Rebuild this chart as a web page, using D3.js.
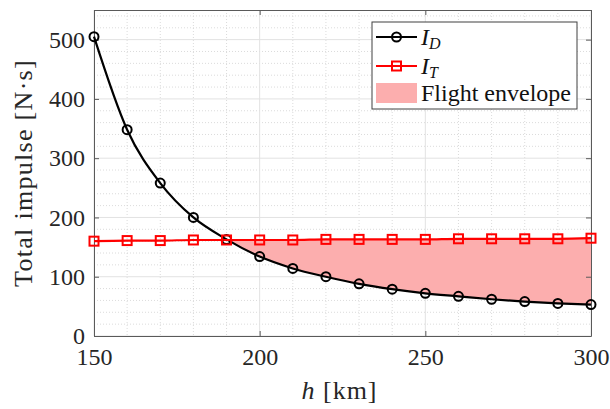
<!DOCTYPE html>
<html>
<head>
<meta charset="utf-8">
<script src="https://cdn.jsdelivr.net/npm/d3@7"></script>
<style>
  body { margin: 0; background: #fff; }
</style>
</head>
<body>
<div id="chart"></div>
<script>
// Altitude samples [km]
const altitudes = [150, 160, 170, 180, 190, 200, 210, 220, 230, 240, 250, 260, 270, 280, 290, 300];
// Drag impulse I_D [N·s]
const dragImpulse = [505, 348, 258, 200, 163, 134, 114, 100, 88, 79, 72, 67, 62, 58, 55, 53];
// Thruster impulse I_T [N·s]
const thrustImpulse = [160, 161, 161, 162, 162, 162, 162, 163, 163, 163, 163, 164, 164, 164, 164, 165];
const xTicks = [150, 200, 250, 300];
const yTicks = [0, 100, 200, 300, 400, 500];
const legendLabels = ['I_D', 'I_T', 'Flight envelope'];

const FONT = '"Liberation Serif", "Times New Roman", "DejaVu Serif", serif';
const width = 610;
const height = 409;
const margin = { top: 10, right: 19, bottom: 73, left: 94 };
const w = width - margin.left - margin.right;
const h = height - margin.top - margin.bottom;

const svg = d3.select('#chart').append('svg')
  .attr('width', width)
  .attr('height', height);

const g = svg.append('g')
  .attr('transform', `translate(${margin.left},${margin.top})`);

const x = d3.scaleLinear().domain([150, 300]).range([0, w]);
const y = d3.scaleLinear().domain([0, 550]).range([h, 0]);

// Minor grid (dotted)
g.append('g').selectAll('line')
  .data(d3.range(150, 301, 10).filter(v => v % 50 !== 0))
  .join('line')
  .attr('x1', d => x(d)).attr('x2', d => x(d))
  .attr('y1', 0).attr('y2', h)
  .attr('stroke', '#d2d2d2').attr('stroke-width', 0.8)
  .attr('stroke-dasharray', '1,2');

g.append('g').selectAll('line')
  .data(d3.range(0, 551, 20).filter(v => v % 100 !== 0))
  .join('line')
  .attr('x1', 0).attr('x2', w)
  .attr('y1', d => y(d)).attr('y2', d => y(d))
  .attr('stroke', '#d2d2d2').attr('stroke-width', 0.8)
  .attr('stroke-dasharray', '1,2');

// Major grid
g.append('g').selectAll('line')
  .data(xTicks)
  .join('line')
  .attr('x1', d => x(d)).attr('x2', d => x(d))
  .attr('y1', 0).attr('y2', h)
  .attr('stroke', '#e2e2e2').attr('stroke-width', 1);

g.append('g').selectAll('line')
  .data(yTicks)
  .join('line')
  .attr('x1', 0).attr('x2', w)
  .attr('y1', d => y(d)).attr('y2', d => y(d))
  .attr('stroke', '#e2e2e2').attr('stroke-width', 1);

// Flight envelope: region between I_T and I_D where I_T >= I_D
const envelope = altitudes
  .map((a, i) => ({ a, lo: dragImpulse[i], hi: thrustImpulse[i] }))
  .filter(d => d.a >= 190);

g.append('path')
  .datum(envelope)
  .attr('d', d3.area()
    .x(d => x(d.a))
    .y0(d => y(d.lo))
    .y1(d => y(d.hi))
    .curve(d3.curveMonotoneX))
  .attr('fill', '#fcaeae')
  .attr('stroke', 'none');

// Axes
const axisColor = '#5a5a5a';
const xAxis = g.append('g')
  .attr('transform', `translate(0,${h})`)
  .call(d3.axisBottom(x).tickValues(xTicks).tickSizeInner(-5).tickSizeOuter(0).tickPadding(12));
const yAxis = g.append('g')
  .call(d3.axisLeft(y).tickValues(yTicks).tickSizeInner(-5).tickSizeOuter(0).tickPadding(9));
const xAxisTop = g.append('g')
  .call(d3.axisTop(x).tickValues(xTicks).tickSizeInner(-5).tickSizeOuter(0).tickFormat(''));
const yAxisRight = g.append('g')
  .attr('transform', `translate(${w},0)`)
  .call(d3.axisRight(y).tickValues(yTicks).tickSizeInner(-5).tickSizeOuter(0).tickFormat(''));

[xAxis, yAxis, xAxisTop, yAxisRight].forEach(ax => {
  ax.select('.domain').attr('stroke', axisColor);
  ax.selectAll('.tick line').attr('stroke', axisColor);
  ax.selectAll('text')
    .style('font-family', FONT)
    .style('font-size', '24px')
    .style('fill', '#262626');
});
yAxis.selectAll('text').attr('dy', '0.32em');

// Lines
const lineGen = d3.line()
  .x(d => x(d[0]))
  .y(d => y(d[1]))
  .curve(d3.curveMonotoneX);

const dragPts = altitudes.map((a, i) => [a, dragImpulse[i]]);
const thrustPts = altitudes.map((a, i) => [a, thrustImpulse[i]]);

g.append('path')
  .datum(dragPts)
  .attr('d', lineGen)
  .attr('fill', 'none')
  .attr('stroke', '#000')
  .attr('stroke-width', 2.2);

g.append('path')
  .datum(thrustPts)
  .attr('d', lineGen)
  .attr('fill', 'none')
  .attr('stroke', '#ff0000')
  .attr('stroke-width', 2.2);

g.selectAll('.dot')
  .data(dragPts)
  .join('circle')
  .attr('class', 'dot')
  .attr('cx', d => x(d[0]))
  .attr('cy', d => y(d[1]))
  .attr('r', 4.5)
  .attr('fill', 'none')
  .attr('stroke', '#000')
  .attr('stroke-width', 2);

g.selectAll('.sq')
  .data(thrustPts)
  .join('rect')
  .attr('class', 'sq')
  .attr('x', d => x(d[0]) - 4.5)
  .attr('y', d => y(d[1]) - 4.5)
  .attr('width', 9)
  .attr('height', 9)
  .attr('fill', 'none')
  .attr('stroke', '#ff0000')
  .attr('stroke-width', 2);

// Axis titles
const xTitle = svg.append('text')
  .attr('x', margin.left + w / 2 - 3)
  .attr('y', 399)
  .attr('text-anchor', 'middle')
  .style('font-family', FONT)
  .style('font-size', '26px')
  .style('letter-spacing', '1px')
  .style('fill', '#262626');
xTitle.append('tspan').style('font-style', 'italic').text('h');
xTitle.append('tspan').text(' [km]');

svg.append('text')
  .attr('transform', `translate(32,${margin.top + h / 2}) rotate(-90)`)
  .attr('text-anchor', 'middle')
  .style('font-family', FONT)
  .style('font-size', '26px')
  .style('letter-spacing', '1.3px')
  .style('fill', '#262626')
  .text('Total impulse [N·s]');

// Legend
const legend = svg.append('g').attr('transform', 'translate(372,22)');
legend.append('rect')
  .attr('width', 205).attr('height', 87)
  .attr('fill', '#fff')
  .attr('stroke', '#404040')
  .attr('stroke-width', 1);

const rows = [15, 44, 71];
// I_D sample
legend.append('line')
  .attr('x1', 4).attr('x2', 45).attr('y1', rows[0]).attr('y2', rows[0])
  .attr('stroke', '#000').attr('stroke-width', 2.2);
legend.append('circle')
  .attr('cx', 24.5).attr('cy', rows[0]).attr('r', 4.5)
  .attr('fill', 'none').attr('stroke', '#000').attr('stroke-width', 2);
// I_T sample
legend.append('line')
  .attr('x1', 4).attr('x2', 45).attr('y1', rows[1]).attr('y2', rows[1])
  .attr('stroke', '#ff0000').attr('stroke-width', 2.2);
legend.append('rect')
  .attr('x', 20).attr('y', rows[1] - 4.5).attr('width', 9).attr('height', 9)
  .attr('fill', 'none').attr('stroke', '#ff0000').attr('stroke-width', 2);
// Envelope patch
legend.append('rect')
  .attr('x', 4).attr('y', rows[2] - 10).attr('width', 41).attr('height', 20)
  .attr('fill', '#fcaeae');

legendLabels.forEach((lab, i) => {
  const t = legend.append('text')
    .attr('x', 49)
    .attr('y', rows[i] + 8)
    .style('font-family', FONT)
    .style('font-size', '24px')
    .style('fill', '#111');
  if (lab.includes('_')) {
    const [base, sub] = lab.split('_');
    t.append('tspan').style('font-style', 'italic').text(base);
    t.append('tspan').style('font-style', 'italic').style('font-size', '16px').attr('dy', 4).text(sub);
  } else {
    t.text(lab);
  }
});
</script>
</body>
</html>
